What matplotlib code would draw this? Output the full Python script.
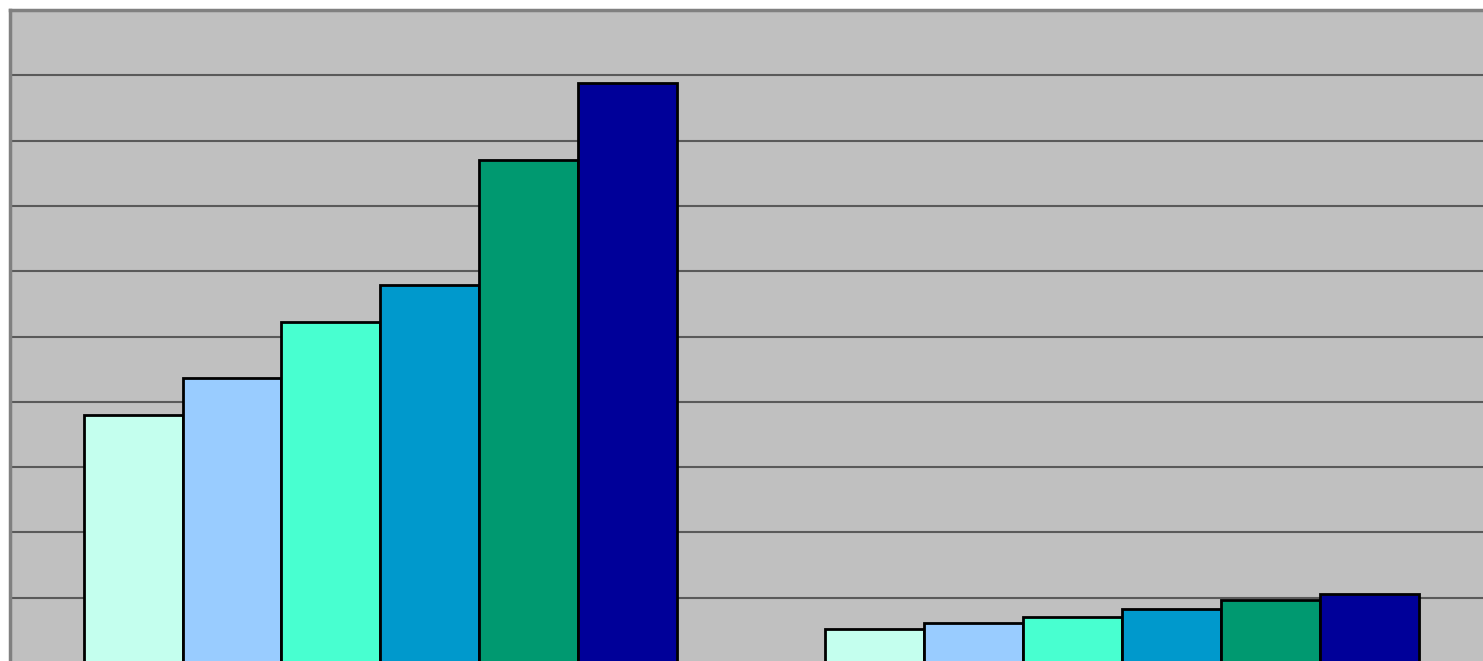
import numpy as np
import matplotlib.pyplot as plt

# two groups, six series each (0..10 scale)
groups = ['Group 1', 'Group 2']
series_names = ['S1', 'S2', 'S3', 'S4', 'S5', 'S6']
s1 = [3.80, 0.52]
s2 = [4.36, 0.61]
s3 = [5.22, 0.70]
s4 = [5.79, 0.83]
s5 = [7.70, 0.96]
s6 = [8.88, 1.06]
series = [s1, s2, s3, s4, s5, s6]
colors = ['#C4FFEE', '#99CCFF', '#48FFD0', '#0099CC', '#009970', '#000099']

fig = plt.figure(figsize=(14.83, 6.61), dpi=100)
# plot area runs a bit past the right and bottom edges of the image
left = 9.5 / 1483
width = (1493 - 9.5) / 1483
bottom = (661 - 663) / 661
height = (663 - 10) / 661
ax = fig.add_axes([left, bottom, width, height])
ax.set_facecolor('#C0C0C0')

x = np.arange(len(groups))
bw = 0.8 / len(series)
for i, vals in enumerate(series):
    ax.bar(x - 0.4 + bw * (i + 0.5), vals, width=bw, color=colors[i],
           edgecolor='black', linewidth=2, label=series_names[i], zorder=3)

ax.set_xlim(-0.5, 1.5)
ax.set_ylim(0, 10)
ax.set_yticks(np.arange(0, 11, 1))
ax.yaxis.grid(True, color='#5A5A5A', linewidth=1.5)
ax.set_axisbelow(True)
ax.tick_params(left=False, bottom=False, labelleft=False, labelbottom=False)
for s in ax.spines.values():
    s.set_color('#808080')
    s.set_linewidth(2.5)

plt.savefig('out.png', dpi=100)
